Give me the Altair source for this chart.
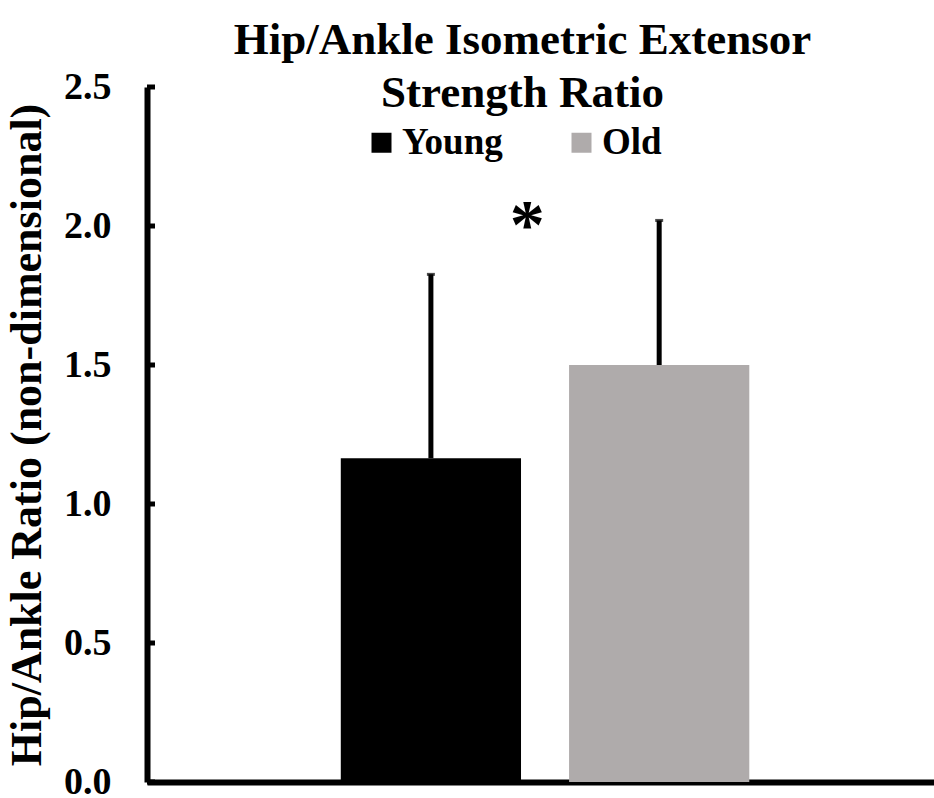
import altair as alt
import pandas as pd

# Group means and upper SD for the hip/ankle extensor strength ratio
groups = ["Young", "Old"]
means = [1.165, 1.50]
upper = [1.826, 2.02]
colors = ["#000000", "#AFABAB"]
tick_values = [0.0, 0.5, 1.0, 1.5, 2.0, 2.5]

# significance marker placed above the gap between the bars
star_group = ["Old"]
star_y = [2.04]
star_text = ["*"]

FONT = "Liberation Serif"

bars_df = pd.DataFrame({"group": groups, "mean": means, "upper": upper})
ticks_df = pd.DataFrame({"v": tick_values})
star_df = pd.DataFrame({"group": star_group, "y": star_y, "label": star_text})

x_enc = alt.X(
    "group:N",
    sort=groups,
    scale=alt.Scale(paddingInner=0.2105, paddingOuter=0.829, align=0.512),
    axis=alt.Axis(
        title=None, labels=False, ticks=False, grid=False,
        domainColor="black", domainWidth=6,
    ),
)

y_scale = alt.Scale(domain=[0, 2.5], nice=False, zero=True)

bars = alt.Chart(bars_df).mark_bar().encode(
    x=x_enc,
    y=alt.Y(
        "mean:Q",
        scale=y_scale,
        axis=alt.Axis(
            title="Hip/Ankle Ratio (non-dimensional)",
            values=tick_values,
            format=".1f",
            ticks=False,
            grid=False,
            domainColor="black",
            domainWidth=6,
            labelFont=FONT,
            labelFontSize=38,
            labelFontWeight="bold",
            labelColor="black",
            labelPadding=36,
            titleFont=FONT,
            titleFontSize=44,
            titleFontWeight="bold",
            titleColor="black",
            titlePadding=14,
        ),
    ),
    color=alt.Color(
        "group:N",
        sort=groups,
        scale=alt.Scale(domain=groups, range=colors),
        legend=alt.Legend(
            title=None,
            orient="none",
            direction="horizontal",
            legendX=216,
            legendY=37,
            symbolType="square",
            symbolSize=400,
            symbolStrokeWidth=0,
            symbolOpacity=1,
            labelFont=FONT,
            labelFontSize=37,
            labelFontWeight="bold",
            labelColor="black",
            labelOffset=2,
            columnPadding=60,
            padding=0,
        ),
    ),
)

err = alt.Chart(bars_df).mark_rule(color="black", strokeWidth=5).encode(
    x=alt.X("group:N", sort=groups),
    y=alt.Y("mean:Q", scale=y_scale),
    y2="upper:Q",
)

caps = alt.Chart(bars_df).mark_tick(color="black", size=8, thickness=3).encode(
    x=alt.X("group:N", sort=groups),
    y=alt.Y("upper:Q", scale=y_scale),
)

# inward-facing tick marks on the value axis
inner_ticks = alt.Chart(ticks_df).mark_rule(color="black", strokeWidth=5).encode(
    y=alt.Y("v:Q", scale=y_scale),
    x=alt.value(0),
    x2=alt.value(8),
)

star = alt.Chart(star_df).mark_text(
    font=FONT, fontSize=70, fontWeight="bold", color="black",
    dx=-132, baseline="middle", dy=12,
).encode(
    x=alt.X("group:N", sort=groups),
    y=alt.Y("y:Q", scale=y_scale),
    text="label:N",
)

chart = alt.layer(bars, err, caps, inner_ticks, star).properties(
    width=787,
    height=695,
    autosize=alt.AutoSizeParams(type="none"),
    padding={"left": 147, "top": 87, "right": 0, "bottom": 16},
    view=alt.ViewBackground(stroke=None, strokeWidth=0),
    title=alt.TitleParams(
        text=["Hip/Ankle Isometric Extensor", "Strength Ratio"],
        font=FONT,
        fontSize=45,
        fontWeight="bold",
        color="black",
        lineHeight=53,
        anchor="middle",
        dx=-18,
        dy=48,
        offset=0,
    ),
).configure_view(strokeWidth=0, stroke=None).configure_axis(
    grid=False
).configure(background="white")

chart.save("out.html", embed_options={"renderer": "svg", "actions": False})
